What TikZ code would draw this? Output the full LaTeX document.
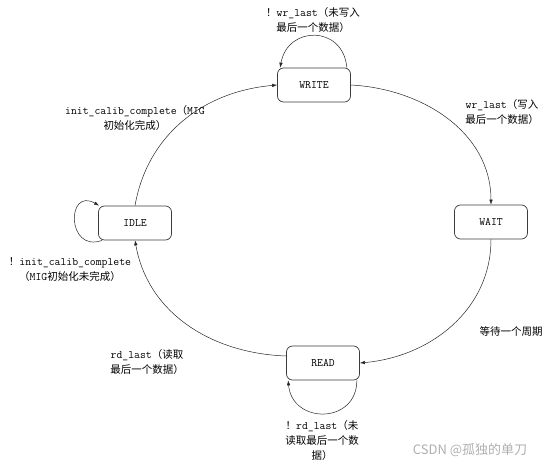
\documentclass[tikz,border=0pt]{standalone}
\usepackage{fontspec}
\newfontfamily\cjk{Noto Sans CJK SC}
\usetikzlibrary{arrows.meta}
\newcommand{\zh}[1]{{\cjk\fontsize{10.5}{15}\selectfont #1}}
\definecolor{mygray}{RGB}{175,175,175}
\definecolor{myedge}{RGB}{60,60,60}

\begin{document}
\begin{tikzpicture}[x=1pt,y=1pt,
  state/.style={draw=myedge,line width=0.7pt,rounded corners=6pt,
    minimum width=73pt,minimum height=34pt,font=\ttfamily\fontsize{11.4}{12}\selectfont},
  cond/.style={align=center,font=\ttfamily\fontsize{11.4}{15}\selectfont},
  trans/.style={draw=black!85,line width=0.5pt,-{Latex[length=5pt,width=3.5pt]}}]
  \useasboundingbox (0,0) rectangle (555,467);

  % states
  \node[state] (write) at (314,382) {WRITE};
  \node[state] (wait)  at (491,245) {WAIT};
  \node[state] (read)  at (323,104) {READ};
  \node[state] (idle)  at (135,244) {IDLE};

  % transitions
  \draw[trans] (idle.north)  to[out=80,in=185]  (write.west);
  \draw[trans] (write.east)  to[out=-3,in=90]   (wait.north);
  \draw[trans] (wait.south)  to[out=-90,in=5]   (read.east);
  \draw[trans] ([yshift=7pt]read.west) to[out=178,in=-80] (idle.south);
  \draw[trans] ([xshift=-4pt]write.north east) to[out=95,in=80,looseness=1.65]  ([xshift=3pt]write.north west);
  \draw[trans] ([xshift=4pt]idle.south west)   to[out=200,in=150,looseness=2.8] ([xshift=1pt]idle.north west);
  \draw[trans] ([xshift=-3pt]read.south east)  to[out=-90,in=-85,looseness=1.65] ([xshift=2pt]read.south west);

  % conditions
  \node[cond] (c-ww) at (313,447) {\zh{！}wr\_last\zh{（未写入}\\\zh{最后一个数据）}};
  \node[cond] (c-iw) at (135,349) {init\_calib\_complete\zh{（}MIG\\\zh{初始化完成）}};
  \node[cond] (c-wt) at (502,355) {wr\_last\zh{（写入}\\\zh{最后一个数据）}};
  \node[cond] (c-ii) at (70,197)  {\zh{！}init\_calib\_complete\\\zh{（}MIG\zh{初始化未完成）}};
  \node[cond] (c-ri) at (147,105) {rd\_last\zh{（读取}\\\zh{最后一个数据）}};
  \node[cond] (c-rr) at (322,26)  {\zh{！}rd\_last\zh{（未}\\\zh{读取最后一个数}\\\zh{据）}};
  \node[cond] (c-tr) at (511,135) {\zh{等待一个周期}};

  \node[text=mygray,font=\cjk\fontsize{13}{15}\selectfont] (mark) at (470,17) {CSDN @孤独的单刀};
\end{tikzpicture}
\end{document}
